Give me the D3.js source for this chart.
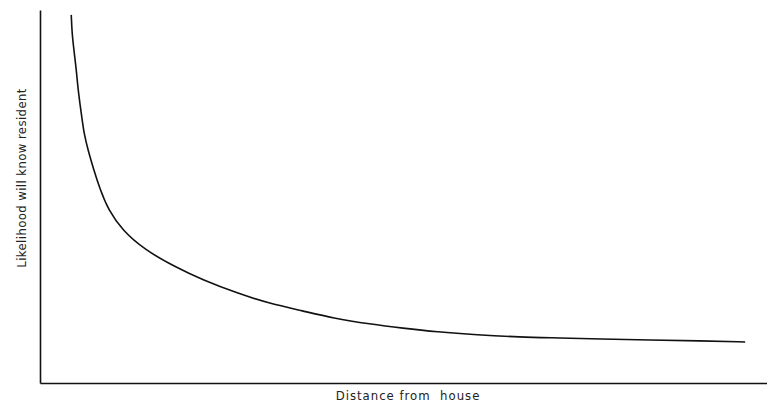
<!DOCTYPE html>
<html>
<head>
<meta charset="utf-8">
<script src="https://cdn.jsdelivr.net/npm/d3@7"></script>
<style>
  body { margin: 0; background: #fff; }
  svg { display: block; }
</style>
</head>
<body>
<div id="chart"></div>
<script>
// distance from house (arbitrary units) and likelihood (arbitrary units)
const distance = [4.3, 4.4, 4.7, 5.0, 5.2, 5.5, 5.8, 6.1, 6.6, 7.4, 8.3, 9.4, 11.3, 14.4, 18.6, 22.4, 27.1, 31.4, 36.2, 40.3, 45.4, 49.9, 54.6, 60.1, 66.0, 71.5, 77.0, 83.9, 90.8, 97.0];
const likelihood = [98.7, 93.8, 88.7, 83.9, 79.4, 74.8, 70.5, 66.5, 62.5, 57.1, 51.7, 46.4, 41.0, 35.7, 31.1, 27.6, 24.1, 21.4, 19.3, 17.4, 15.8, 14.7, 13.7, 12.9, 12.3, 12.1, 11.8, 11.5, 11.3, 11.0];
const xLabel = "Distance from  house";
const yLabel = "Likelihood will know resident";

const width = 767, height = 403;
const margin = {top: 10, right: 0, bottom: 20, left: 40};

const svg = d3.select("#chart").append("svg")
  .attr("width", width)
  .attr("height", height);

const x = d3.scaleLinear()
  .domain([0, 100])
  .range([margin.left, width - margin.right]);

const y = d3.scaleLinear()
  .domain([0, 100])
  .range([height - margin.bottom, margin.top]);

const data = distance.map((d, i) => ({d, v: likelihood[i]}));

// axes without ticks, just the lines
svg.append("g")
  .attr("transform", `translate(0,${y(0)})`)
  .call(d3.axisBottom(x).ticks(0).tickSizeOuter(0))
  .call(g => g.select(".domain").attr("stroke", "#111").attr("stroke-width", 1.6));

svg.append("g")
  .attr("transform", `translate(${x(0)},0)`)
  .call(d3.axisLeft(y).ticks(0).tickSizeOuter(0))
  .call(g => g.select(".domain").attr("stroke", "#111").attr("stroke-width", 1.6));

const line = d3.line()
  .curve(d3.curveBasis)
  .x(d => x(d.d))
  .y(d => y(d.v));

svg.append("path")
  .datum(data)
  .attr("fill", "none")
  .attr("stroke", "#111")
  .attr("stroke-width", 1.6)
  .attr("d", line);

svg.append("text")
  .attr("x", 408)
  .attr("y", 400)
  .attr("text-anchor", "middle")
  .attr("font-family", "DejaVu Sans Condensed")
  .attr("font-size", 13)
  .attr("letter-spacing", 1)
  .attr("fill", "#222")
  .style("white-space", "pre")
  .text(xLabel);

svg.append("text")
  .attr("transform", "translate(26,178) rotate(-90)")
  .attr("text-anchor", "middle")
  .attr("font-family", "DejaVu Sans Condensed")
  .attr("font-size", 13)
  .attr("letter-spacing", 0.4)
  .attr("fill", "#222")
  .text(yLabel);
</script>
</body>
</html>
